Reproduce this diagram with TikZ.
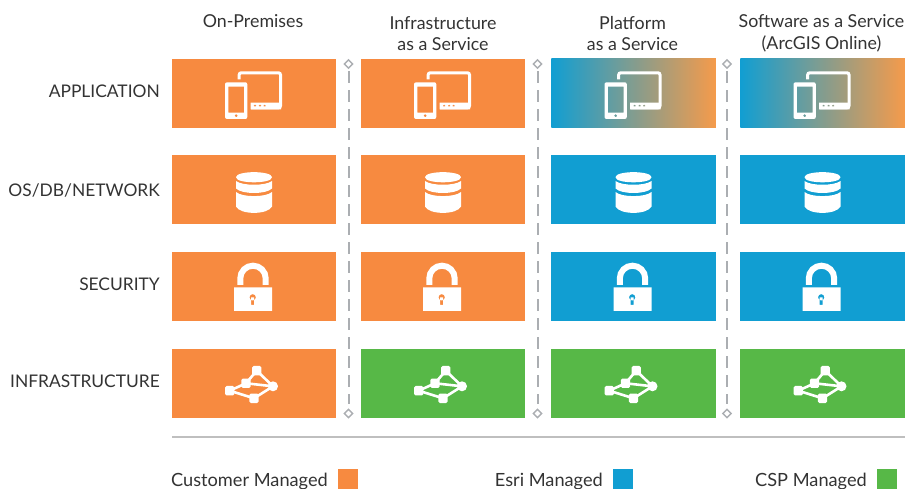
\documentclass[tikz,border=0pt]{standalone}
\usepackage{fontspec}
\usetikzlibrary{shapes.geometric}
\setmainfont{Lato}
\definecolor{orng}{HTML}{F78A40}
\definecolor{blu}{HTML}{119ED2}
\definecolor{grn}{HTML}{57B847}
\definecolor{grd}{HTML}{F59B4B}
\definecolor{sepc}{HTML}{ABAEB2}
\definecolor{txt}{HTML}{333333}
\tikzset{
  x=1pt,y=-1pt,
  cell/.style={rectangle,minimum width=164.5pt,minimum height=69pt,inner sep=0pt,outer sep=0pt},
  corange/.style={cell,fill=orng},
  cblue/.style={cell,fill=blu},
  cgreen/.style={cell,fill=grn},
  cgrad/.style={cell,left color=blu,right color=grd},
  head/.style={font=\fontsize{17.8}{21.5}\selectfont,text=txt,align=center,anchor=center,inner sep=0pt},
  rowlab/.style={font=\fontsize{17.4}{21}\selectfont,text=txt,anchor=east,inner sep=0pt},
  leglab/.style={font=\fontsize{18.2}{22}\selectfont,text=txt,anchor=base east,inner sep=0pt},
  legsq/.style={rectangle,minimum size=20pt,inner sep=0pt,outer sep=0pt},
  endmark/.style={diamond,draw=sepc,fill=white,line width=1.4pt,minimum size=9pt,inner sep=0pt},
  sepline/.style={draw=sepc,line width=2pt,dash pattern=on 12pt off 7pt},
  devices/.pic={
    \fill[white,even odd rule,rounded corners=2pt] (-29,-11.2) rectangle (-6.7,25.5)
      [sharp corners] (-25.7,-6.8) rectangle (-10,19.2) (-17.8,22.2) circle (1.7);
    \draw[white,line width=3pt,rounded corners=2pt] (-14.8,-14.2) -- (-14.8,-20.7) -- (26.5,-20.7) -- (26.5,14.3) -- (-3,14.3);
    \fill[white,even odd rule] (-3.3,9.2) rectangle (27,15.8)
      (1,12.5) circle (1.5) (6,12.5) circle (1.5) (10.7,12.5) circle (1.5);
  },
  dbase/.pic={
    \fill[white] (-18,-12.3) .. controls (-18,-19) and (18,-19) .. (18,-12.3)
       .. controls (18,-5.5) and (-18,-5.5) .. (-18,-12.3) -- cycle;
    \fill[white] (-18,-8.5) .. controls (-12,-3.5) and (12,-3.5) .. (18,-8.5) -- (18,-1)
       .. controls (12,5) and (-12,5) .. (-18,-1) -- cycle;
    \fill[white] (-18,2.5) .. controls (-12,8) and (12,8) .. (18,2.5) -- (18,17)
       .. controls (14,25.5) and (-14,25.5) .. (-18,17) -- cycle;
  },
  lock/.pic={
    \draw[white,line width=6pt] (-13.7,-1.5) -- (-13.7,-8.1) arc[start angle=180,end angle=360,radius=12.7] -- (11.7,-1.5);
    \fill[white,even odd rule] (-20,1) rectangle (18,24.5)
      (-1.3,10.8) circle (3.2) (-2.8,11) rectangle (0.2,18.5);
  },
  netw/.pic={
    \coordinate (na) at (2.7,-12.8); \coordinate (nb) at (-8,-0.2);
    \coordinate (nc) at (19,2.8);  \coordinate (nd) at (-24.3,7.2);
    \coordinate (ne) at (0,14.8);
    \draw[white,line width=2.6pt] (nd) -- (nb) -- (na) -- (nc) -- (ne) -- (nd) (nb) -- (nc);
    \fill[white,rounded corners=1.5pt] (-2,-17.5) rectangle (7.4,-8.1);
    \fill[white,rounded corners=1.5pt] (-12.7,-4.9) rectangle (-3.3,4.5);
    \fill[white,rounded corners=1.5pt] (-29,2.5) rectangle (-19.6,11.9);
    \fill[white,rounded corners=1.5pt] (-4.7,10.1) rectangle (4.7,19.5);
    \fill[white] (nc) circle (5);
  }
}
\begin{document}
\begin{tikzpicture}
\useasboundingbox (0,0) rectangle (906,489);
% headers
\node[head] (h1) at (253,21) {On-Premises};
\node[head] (h2) at (443,33.5) {Infrastructure\\as a Service};
\node[head] (h3) at (632.5,33.5) {Platform\\as a Service};
\node[head] (h4) at (821.5,33.5) {Software as a Service\\(ArcGIS Online)};
% row labels
\node[rowlab] (r1) at (160,91) {APPLICATION};
\node[rowlab] (r2) at (160,190) {OS/DB/NETWORK};
\node[rowlab] (r3) at (160,284) {SECURITY};
\node[rowlab] (r4) at (160,381) {INFRASTRUCTURE};
% cells
\node[corange] (a1) at (254,93.5) {};
\node[corange] (a2) at (443,93.5) {};
\node[cgrad]   (a3) at (633.5,93.5) {};
\node[cgrad]   (a4) at (822.5,93.5) {};
\node[corange] (b1) at (254,189.5) {};
\node[corange] (b2) at (443,189.5) {};
\node[cblue]   (b3) at (633.5,189.5) {};
\node[cblue]   (b4) at (822.5,189.5) {};
\node[corange] (c1) at (254,286.5) {};
\node[corange] (c2) at (443,286.5) {};
\node[cblue]   (c3) at (633.5,286.5) {};
\node[cblue]   (c4) at (822.5,286.5) {};
\node[corange] (d1) at (254,383.5) {};
\node[cgreen]  (d2) at (443,383.5) {};
\node[cgreen]  (d3) at (633.5,383.5) {};
\node[cgreen]  (d4) at (822.5,383.5) {};
% icons
\foreach \n in {1,2,3,4}{
  \path (a\n.center) pic {devices};
  \path (b\n.center) pic {dbase};
  \path (c\n.center) pic {lock};
  \path (d\n.center) pic {netw};
}
% separators
\foreach \n/\px in {1/348.5,2/537.5,3/727}{
  \node[endmark] (st\n) at (\px,64) {};
  \node[endmark] (en\n) at (\px,413.5) {};
  \draw[sepline] ([yshift=-2pt]st\n.south) -- ([yshift=4pt]en\n.north);
}
% rule
\coordinate (ruleL) at (172,437);
\coordinate (ruleR) at (905,437);
\draw[draw=black!25,line width=1.6pt] (ruleL) -- (ruleR);
% legend
\node[legsq,fill=orng] (s1) at (348,479) {};
\node[legsq,fill=blu]  (s2) at (622.5,479) {};
\node[legsq,fill=grn]  (s3) at (887,479) {};
\node[leglab] (l1) at (328,486) {Customer Managed};
\node[leglab] (l2) at (603,486) {Esri Managed};
\node[leglab] (l3) at (867,486) {CSP Managed};
\end{tikzpicture}
\end{document}
